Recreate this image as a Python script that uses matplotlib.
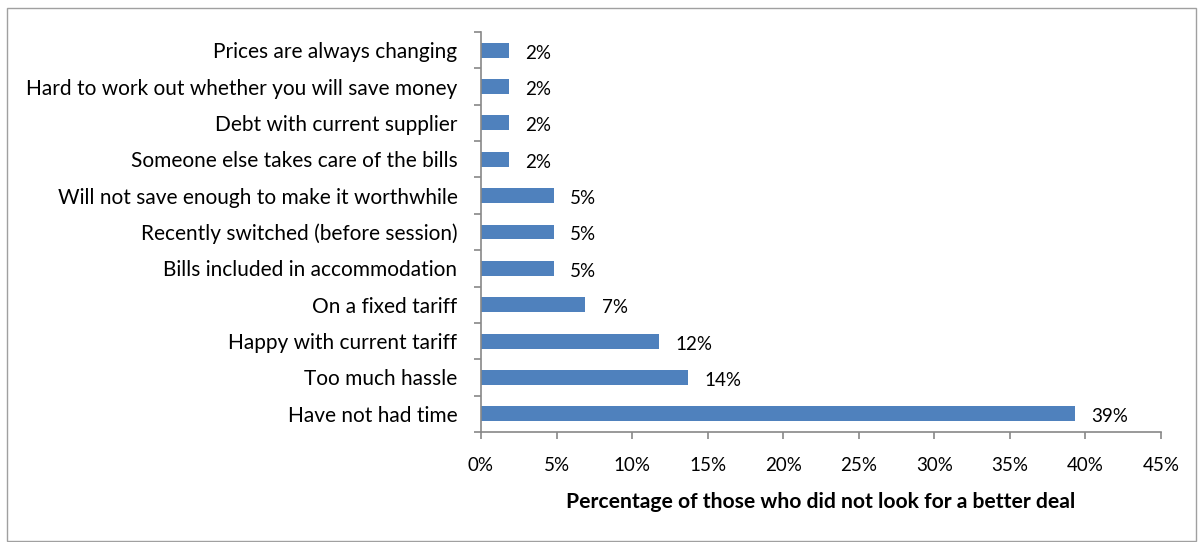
import matplotlib
matplotlib.use("Agg")
import matplotlib.pyplot as plt
from matplotlib.patches import Rectangle

# Reasons for not looking for a better energy deal (top to bottom)
reasons = [
    "Prices are always changing",
    "Hard to work out whether you will save money",
    "Debt with current supplier",
    "Someone else takes care of the bills",
    "Will not save enough to make it worthwhile",
    "Recently switched (before session)",
    "Bills included in accommodation",
    "On a fixed tariff",
    "Happy with current tariff",
    "Too much hassle",
    "Have not had time",
]
shares = [1.85, 1.85, 1.85, 1.85, 4.8, 4.8, 4.8, 6.9, 11.8, 13.7, 39.3]
x_ticks = [0, 5, 10, 15, 20, 25, 30, 35, 40, 45]
x_label = "Percentage of those who did not look for a better deal"

plt.rcParams["font.family"] = ["Lato", "DejaVu Sans"]

fig = plt.figure(figsize=(12.04, 5.42), dpi=100)
ax = fig.add_axes([481 / 1204, 1 - 432 / 542, (1161 - 481) / 1204, 400 / 542])

n = len(reasons)
ypos = list(range(n))[::-1]
ax.barh(ypos, shares, height=0.41, color="#4F81BD", zorder=2)

for y, v in zip(ypos, shares):
    ax.text(v + 1.1, y - 0.08, f"{v:.0f}%", va="center", ha="left", fontsize=13.5, color="#000000")

ax.set_xlim(0, 45)
ax.set_ylim(-0.5, n - 0.5)
ax.set_xticks(x_ticks)
ax.set_xticklabels([f"{t}%" for t in x_ticks], fontsize=13.5)
ax.set_yticks(ypos)
ax.set_yticklabels(reasons, fontsize=15)
ax.set_yticks([i - 0.5 for i in range(n + 1)], minor=True)

ax.tick_params(axis="y", which="major", length=0, pad=17)
ax.tick_params(axis="y", which="minor", length=5, width=1.2, color="#888888", direction="out")
ax.tick_params(axis="x", which="major", length=5, width=1.2, color="#888888", direction="out", pad=13)

for side in ("top", "right"):
    ax.spines[side].set_visible(False)
for side in ("left", "bottom"):
    ax.spines[side].set_color("#888888")
    ax.spines[side].set_linewidth(1.2)

ax.set_xlabel(x_label, fontsize=15.2, fontweight="bold", labelpad=13)

# thin frame around the whole chart
fig.patches.append(Rectangle((7 / 1204, 1 / 542), 1189 / 1204, 533 / 542,
                             transform=fig.transFigure, fill=False,
                             edgecolor="#A0A0A0", linewidth=1.0))

fig.savefig("out.png", dpi=100)
